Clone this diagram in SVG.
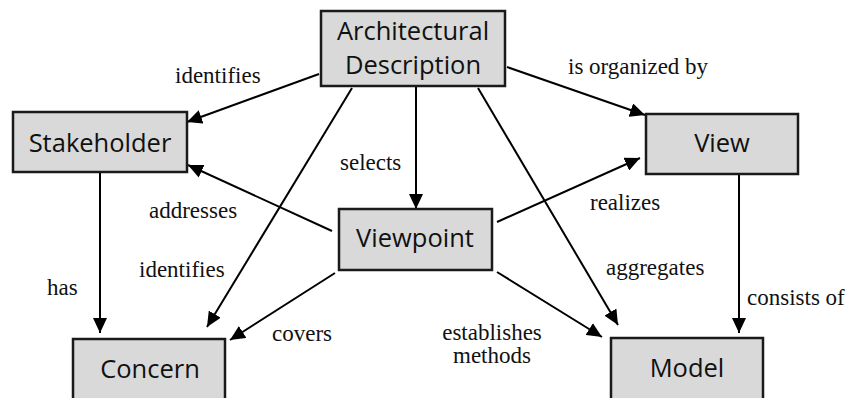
<svg xmlns="http://www.w3.org/2000/svg" width="850" height="398" viewBox="0 0 850 398">
<style>
.box{fill:#d9d9d9;stroke:#1a1a1a;stroke-width:2.5}
.nt{font-family:"Open Sans","Noto Sans",sans-serif;font-size:25.5px;fill:#111;text-anchor:middle}
.lb{font-family:"Liberation Serif","Times New Roman",serif;font-size:23px;fill:#111}
.ln{stroke:#000;stroke-width:2;fill:none;marker-end:url(#ah)}
</style>
<defs>
<marker id="ah" markerUnits="userSpaceOnUse" markerWidth="16" markerHeight="14" refX="15" refY="7" orient="auto">
<path d="M0,0 L15,7 L0,14 z" fill="#000"/>
</marker>
</defs>
<rect width="850" height="398" fill="#fff"/>
<g id="connectors">
<path class="ln" d="M319,74 L187,122"/>
<path class="ln" d="M507,67 L645,115"/>
<path class="ln" d="M416,86 L416,209"/>
<path class="ln" d="M352,88 L207,327"/>
<path class="ln" d="M478,88 L618,325"/>
<path class="ln" d="M332,231 L188,165"/>
<path class="ln" d="M497,222 L640,158"/>
<path class="ln" d="M335,273 L230,340"/>
<path class="ln" d="M497,272 L602,337"/>
<path class="ln" d="M100,172 L100,333"/>
<path class="ln" d="M739,174 L739,333"/>
</g>
<g id="labels">
<text class="lb" x="175" y="83">identifies</text>
<text class="lb" x="568" y="74">is organized by</text>
<text class="lb" x="340" y="170">selects</text>
<text class="lb" x="149" y="218">addresses</text>
<text class="lb" x="590" y="210">realizes</text>
<text class="lb" x="139" y="277">identifies</text>
<text class="lb" x="47" y="295">has</text>
<text class="lb" x="606" y="275">aggregates</text>
<text class="lb" x="747" y="305">consists of</text>
<text class="lb" x="272" y="341">covers</text>
<text class="lb" x="492" y="340" text-anchor="middle">establishes</text>
<text class="lb" x="492" y="363" text-anchor="middle">methods</text>
</g>
<g id="architectural-description">
<rect class="box" x="321" y="11" width="184" height="75"/>
<text class="nt" x="413" y="40">Architectural</text>
<text class="nt" x="413" y="74">Description</text>
</g>
<g id="stakeholder">
<rect class="box" x="13" y="112" width="174" height="60"/>
<text class="nt" x="100" y="152">Stakeholder</text>
</g>
<g id="view">
<rect class="box" x="646" y="114" width="152" height="60"/>
<text class="nt" x="722" y="152">View</text>
</g>
<g id="viewpoint">
<rect class="box" x="339" y="209" width="153" height="61"/>
<text class="nt" x="415" y="247">Viewpoint</text>
</g>
<g id="concern">
<rect class="box" x="73" y="339" width="152" height="70"/>
<text class="nt" x="150" y="378">Concern</text>
</g>
<g id="model">
<rect class="box" x="611" y="338" width="152" height="70"/>
<text class="nt" x="687" y="377">Model</text>
</g>
</svg>
